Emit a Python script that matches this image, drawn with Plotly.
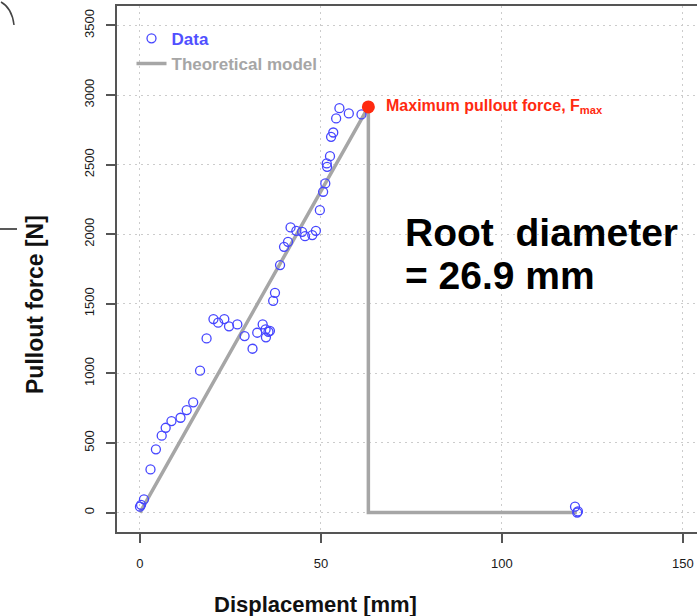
import plotly.graph_objects as go

# Data
disp_mm = [0, 0.3, 1.1, 2.9, 4.4, 6.0, 7.1, 8.7, 11.2, 12.9, 14.7, 16.6, 18.4, 20.3,
           21.6, 23.3, 24.6, 26.9, 28.9, 31.1, 32.4, 33.9, 34.7, 35.5, 34.8, 35.9,
           36.8, 37.3, 38.7, 39.8, 40.9, 41.6, 43.2, 44.8, 45.6, 47.6, 48.6, 49.7,
           50.6, 51.2, 51.6, 51.7, 52.5, 52.8, 53.4, 54.2, 55.1, 57.7, 61.2,
           120.2, 120.8, 121.0]
force_n = [42, 55, 95, 310, 454, 552, 609, 657, 681, 736, 792, 1019, 1251, 1390,
           1364, 1390, 1338, 1352, 1268, 1177, 1292, 1352, 1316, 1299, 1259, 1306,
           1521, 1579, 1778, 1909, 1945, 2049, 2024, 2017, 1986, 1994, 2024, 2173,
           2305, 2365, 2509, 2484, 2561, 2700, 2731, 2832, 2906, 2868, 2861,
           42, 0, 8]

model_x = [0, 63.1, 63.1, 120.7]
model_y = [0, 2915, 0, 0]

fmax_x = [63.1]
fmax_y = [2915]

x_ticks = [0, 50, 100, 150]
y_ticks = [0, 500, 1000, 1500, 2000, 2500, 3000, 3500]

FONT = "Liberation Sans, Arial, Helvetica, sans-serif"

fig = go.Figure()
fig.add_trace(go.Scatter(
    x=model_x, y=model_y, mode="lines",
    line=dict(color="#a6a6a6", width=3.5),
    name="<span style='color:#a6a6a6'><b>Theoretical model</b></span>",
    legendgroup="model",
))
fig.add_trace(go.Scatter(
    x=disp_mm, y=force_n, mode="markers",
    marker=dict(symbol="circle-open", size=9, color="#4646ff", line=dict(width=1.3)),
    name="<span style='color:#5050ff'><b>Data</b></span>",
    legendgroup="data",
))
fig.add_trace(go.Scatter(
    x=fmax_x, y=fmax_y, mode="markers",
    marker=dict(symbol="circle", size=13, color="#ff2a10"),
    showlegend=False,
))

fig.add_annotation(x=fmax_x[0] + 4.4, y=fmax_y[0], xref="x", yref="y",
                   text="<b>Maximum pullout force, F<sub>max</sub></b>",
                   showarrow=False, xanchor="left", yanchor="middle",
                   font=dict(family=FONT, size=16, color="#ff2a10"))

fig.add_annotation(x=72.8, y=2010, xref="x", yref="y",
                   text="<b>Root\u00a0 diameter</b>", showarrow=False,
                   xanchor="left", yanchor="middle",
                   font=dict(family=FONT, size=39, color="black"))
fig.add_annotation(x=72.8, y=1700, xref="x", yref="y",
                   text="<b>= 26.9 mm</b>", showarrow=False,
                   xanchor="left", yanchor="middle",
                   font=dict(family=FONT, size=39, color="black"))

W, H = 697, 616
L, T, B = 117, 6, 84
pw, ph = W - L, H - T - B

# axis titles (pixel positions converted to paper coordinates)
fig.add_annotation(x=(315 - L) / pw, y=(H - B - 604) / ph, xref="paper", yref="paper",
                   text="<b>Displacement [mm]</b>", showarrow=False,
                   xanchor="center", yanchor="middle",
                   font=dict(family=FONT, size=22, color="#111"))
fig.add_annotation(x=(35 - L) / pw, y=(H - B - 305) / ph, xref="paper", yref="paper",
                   text="<b>Pullout force [N]</b>", showarrow=False, textangle=-90,
                   xanchor="center", yanchor="middle",
                   font=dict(family=FONT, size=23, color="#111"))

# cropping artefacts at the left edge of the reference
fig.add_shape(type="line", xref="paper", yref="paper",
              x0=(0 - L) / pw, x1=(17 - L) / pw,
              y0=(H - B - 229) / ph, y1=(H - B - 229) / ph,
              line=dict(color="#222", width=1.5))
fig.add_shape(type="path", xref="paper", yref="paper",
              path=f"M {(1-L)/pw},{(H-B-2)/ph} Q {(12-L)/pw},{(H-B-8)/ph} {(14-L)/pw},{(H-B-25)/ph}",
              line=dict(color="#444", width=1.5))

axis_common = dict(
    showline=True, linecolor="#555", linewidth=1.5,
    ticks="outside", ticklen=9, tickcolor="#555", tickwidth=1.5,
    showgrid=True, gridcolor="#cccccc", griddash="2px,4px", gridwidth=1,
    zeroline=False,
    tickfont=dict(family=FONT, size=13, color="#1a1a1a"),
)

fig.update_xaxes(range=[-6.35, 153.9], tickvals=x_ticks, mirror=True,
                 ticklabelstandoff=10, **axis_common)
fig.update_yaxes(range=[-140, 3640], tickvals=y_ticks, tickangle=-90,
                 ticklabelstandoff=7, **axis_common)

fig.update_layout(
    width=W, height=H,
    margin=dict(l=L, r=0, t=T, b=B, autoexpand=False),
    paper_bgcolor="white", plot_bgcolor="white",
    font=dict(family=FONT),
    legend=dict(x=0.025, y=0.972, xanchor="left", yanchor="top",
                bgcolor="rgba(0,0,0,0)", traceorder="reversed",
                font=dict(family=FONT, size=17), itemwidth=30, tracegroupgap=9),
)

fig.write_html("out.html")
